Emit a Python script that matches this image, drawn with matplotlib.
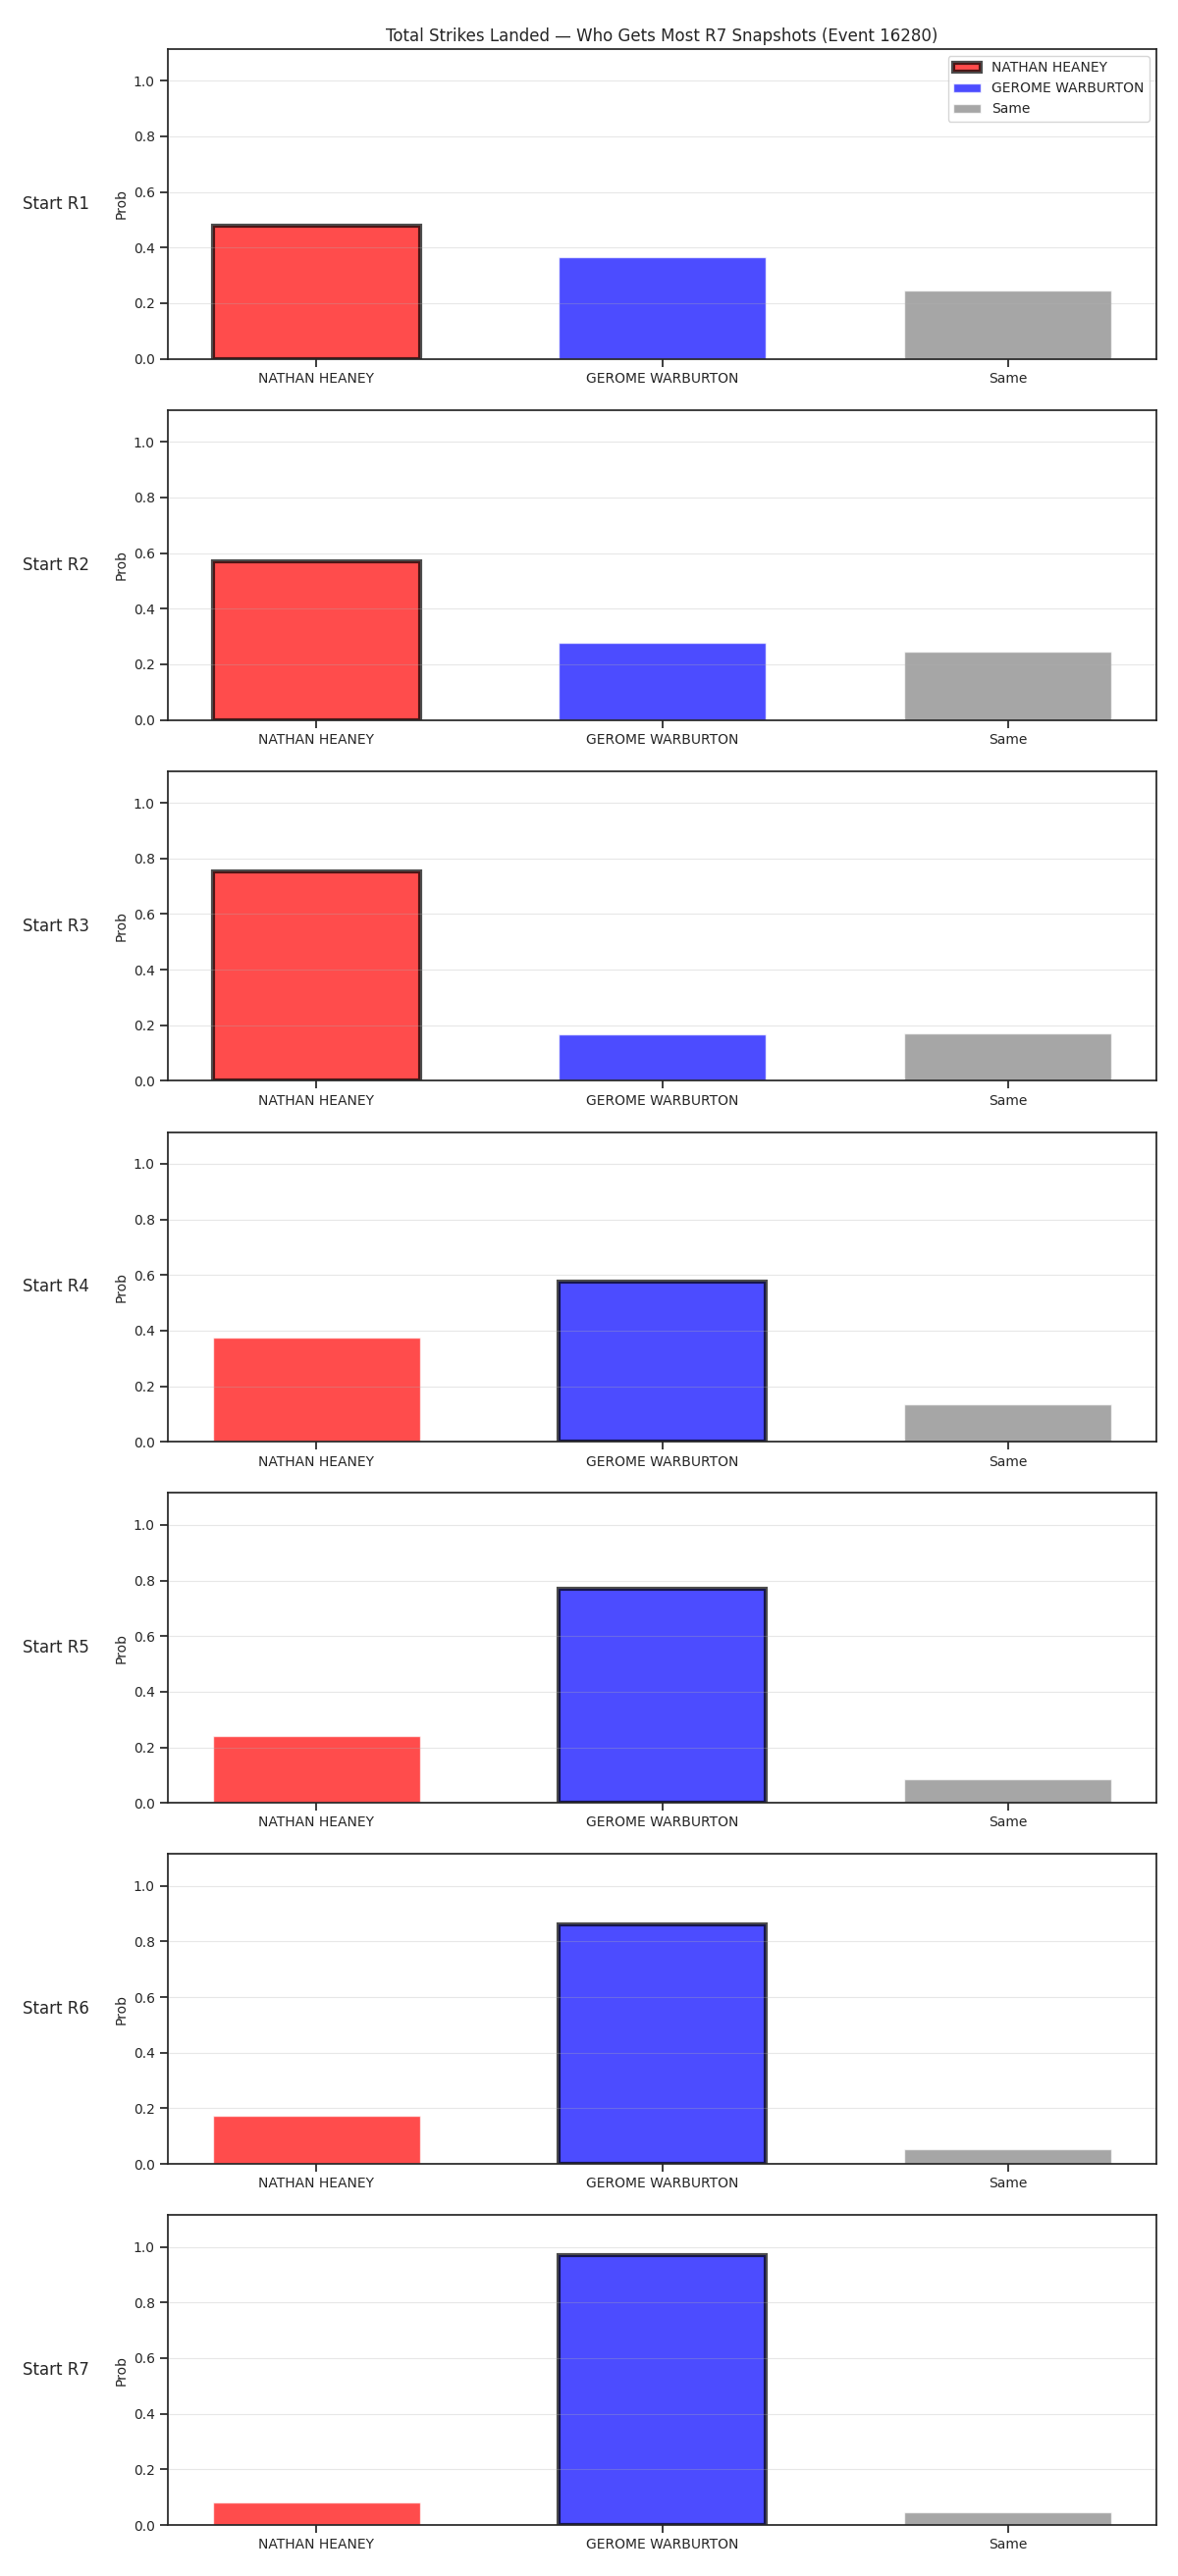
import numpy as np
import matplotlib
matplotlib.use('Agg')
import matplotlib.pyplot as plt

plt.rcParams['font.family'] = ['DejaVu Sans']
plt.rcParams['font.size'] = 10
plt.rcParams['axes.edgecolor'] = '.15'
plt.rcParams['axes.linewidth'] = 1.25
plt.rcParams['xtick.major.size'] = 6
plt.rcParams['ytick.major.size'] = 6
plt.rcParams['xtick.major.width'] = 1.25
plt.rcParams['ytick.major.width'] = 1.25
plt.rcParams['xtick.color'] = '.15'
plt.rcParams['ytick.color'] = '.15'
plt.rcParams['text.color'] = '.15'
plt.rcParams['axes.labelcolor'] = '.15'
plt.rcParams['patch.edgecolor'] = 'w'
plt.rcParams['patch.force_edgecolor'] = True

rounds = ['Start R1', 'Start R2', 'Start R3', 'Start R4', 'Start R5', 'Start R6', 'Start R7']
categories = ['NATHAN HEANEY', 'GEROME WARBURTON', 'Same']
nathan = [0.478, 0.571, 0.754, 0.375, 0.241, 0.175, 0.080]
gerome = [0.365, 0.278, 0.168, 0.578, 0.771, 0.861, 0.969]
same = [0.246, 0.246, 0.172, 0.137, 0.085, 0.054, 0.045]
colors = ['red', 'blue', 'gray']

n = len(rounds)
ymax = max(nathan + gerome + same) * 1.15

fig, axes = plt.subplots(n, 1, figsize=(12, 3.75 * n))
fig.subplots_adjust(left=0.1425, right=0.9817, top=0.981, bottom=0.0198, hspace=0.165)

x = np.arange(len(categories))
for i, ax in enumerate(axes):
    vals = [nathan[i], gerome[i], same[i]]
    best = int(np.argmax(vals))
    bars = ax.bar(x, vals, width=0.6, color=colors, alpha=0.7, label=categories)
    bars[best].set_edgecolor('black')
    bars[best].set_linewidth(3)
    ax.set_xticks(x)
    ax.set_xticklabels(categories)
    ax.set_ylim(0, ymax)
    ax.set_ylabel('Prob', fontsize=10)
    ax.grid(axis='y', alpha=0.3)
    ax.text(-0.147, 0.5, rounds[i], transform=ax.transAxes, ha='left', va='center', fontsize=12)
    if i == 0:
        ax.set_title('Total Strikes Landed \u2014 Who Gets Most R7 Snapshots (Event 16280)', fontsize=12)
        ax.legend(loc='upper right')

plt.savefig('out.png')
